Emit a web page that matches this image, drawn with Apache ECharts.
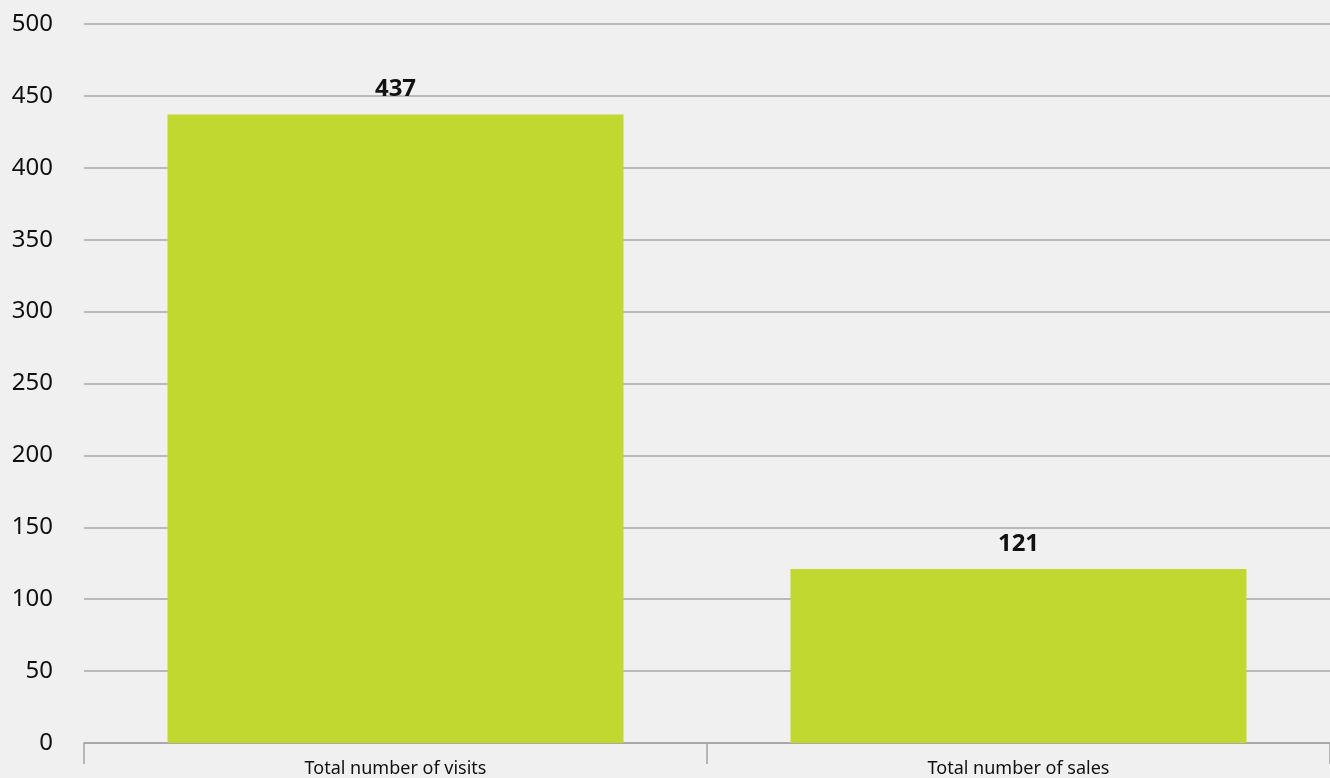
<!DOCTYPE html>
<html>
<head>
<meta charset="utf-8">
<script src="https://cdn.jsdelivr.net/npm/echarts@6/dist/echarts.min.js"></script>
<style>
  html, body { margin: 0; padding: 0; background: #f0f0f0; }
  #chart { width: 1330px; height: 778px; }
</style>
</head>
<body>
<div id="chart"></div>
<script>
// Totals shown as two bars
const categories = ['Total number of visits', 'Total number of sales'];
const totals = [437, 121];
const yTicks = { min: 0, max: 500, step: 50 };

const chart = echarts.init(document.getElementById('chart'));
const font = '"Noto Sans", "Open Sans", sans-serif';

chart.setOption({
  backgroundColor: '#f0f0f0',
  animation: false,
  grid: { left: 84, right: -4, top: 24, bottom: 32, containLabel: false },
  xAxis: {
    type: 'category',
    data: categories,
    boundaryGap: true,
    axisLine: { show: true, lineStyle: { color: '#a3a3a3', width: 1.5 } },
    axisTick: { show: true, length: 21, lineStyle: { color: '#a3a3a3', width: 1.5 } },
    axisLabel: {
      margin: 17,
      color: '#111',
      fontSize: 18,
      fontFamily: font
    }
  },
  yAxis: {
    type: 'value',
    min: yTicks.min,
    max: yTicks.max,
    interval: yTicks.step,
    axisLine: { show: false },
    axisTick: { show: false },
    axisLabel: {
      margin: 31,
      color: '#111',
      fontSize: 24,
      fontFamily: font
    },
    splitLine: { show: true, lineStyle: { color: '#a8a8a8', width: 1.5 } }
  },
  series: [{
    type: 'bar',
    data: totals,
    barWidth: 456,
    itemStyle: { color: '#c0d830' },
    label: {
      show: true,
      position: 'top',
      distance: 13,
      color: '#111',
      fontSize: 24,
      fontWeight: 'bold',
      fontFamily: font
    }
  }]
});
</script>
</body>
</html>
